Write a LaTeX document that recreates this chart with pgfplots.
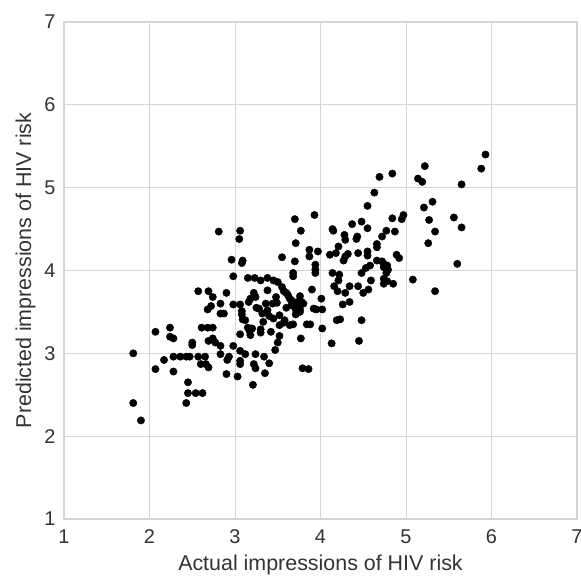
\documentclass[border=0pt]{standalone}
\usepackage{pgfplots}
\pgfplotsset{compat=1.18}
\usepackage{fontspec}
\setmainfont{Liberation Sans}
\definecolor{gridc}{HTML}{D5D5D5}
\definecolor{txtc}{HTML}{333333}
\begin{document}
\begin{tikzpicture}
\begin{axis}[
  scale only axis,
  width=513bp, height=497bp,
  xmin=1, xmax=7, ymin=1, ymax=7,
  xtick={1,2,3,4,5,6,7}, ytick={1,2,3,4,5,6,7},
  major tick length=0pt,
  grid=major,
  grid style={gridc, line width=0.9pt},
  axis line style={gridc, line width=1.1pt},
  tick label style={font=\fontsize{20}{24}\selectfont, text=txtc},
  /pgf/number format/assume math mode=true,
  xticklabel style={yshift=-7bp},
  yticklabel style={xshift=-5bp},
  label style={font=\fontsize{21.5}{25}\selectfont, text=txtc},
  xlabel={Actual impressions of HIV risk},
  ylabel={Predicted impressions of HIV risk},
  xlabel style={yshift=-5bp},
  ylabel style={yshift=2bp},
  clip=false,
]
\addplot[only marks, mark=*, mark size=3.7bp, mark options={fill=black, draw=black}] coordinates {
(1.81,3.00) (1.81,2.40) (1.90,2.19) (2.07,3.26) (2.07,2.81) (2.17,2.92)
(2.24,3.31) (2.24,3.20) (2.28,3.18) (2.28,2.96) (2.28,2.78)
(2.36,2.96) (2.43,2.96) (2.47,2.96) (2.45,2.65)
(2.45,2.52) (2.54,2.52) (2.62,2.52) (2.43,2.40)
(2.50,3.13) (2.50,3.10) (2.57,3.75) (2.57,2.96) (2.60,2.87)
(2.65,2.96) (2.66,2.87) (2.61,3.31) (2.68,3.31) (2.69,2.83)
(2.69,3.15) (2.68,3.53) (2.69,3.75) (2.74,3.68) (2.72,3.57)
(2.74,3.31) (2.74,3.18) (2.77,3.13) (2.81,4.47) (2.83,3.60)
(2.83,3.48) (2.87,3.48) (2.83,3.09) (2.83,2.99) (2.90,3.73)
(2.93,2.96) (2.91,2.92) (2.90,2.75) (2.96,4.13) (2.98,3.93)
(2.98,3.59) (2.98,3.09) (3.03,2.72) (3.06,4.48) (3.05,4.38)
(3.09,4.12) (3.08,4.09) (3.06,3.59) (3.08,3.51) (3.08,3.47)
(3.09,3.41) (3.06,3.23) (3.06,3.03) (3.06,2.91) (3.06,2.87)
(3.12,2.99) (3.15,3.91) (3.15,3.31) (3.18,3.22) (3.17,3.27)
(3.16,3.62) (3.18,3.66) (3.22,3.73) (3.24,3.68) (3.23,3.91)
(3.22,2.87) (3.24,2.82) (3.24,2.99) (3.21,2.62) (3.25,3.55)
(3.28,3.54) (3.30,3.88) (3.30,3.29) (3.30,3.25) (3.33,3.38)
(3.34,2.96) (3.35,2.76) (3.38,3.91) (3.38,3.76) (3.38,3.52)
(3.40,2.88) (3.42,3.26) (3.44,3.60) (3.45,3.42) (3.45,3.88)
(3.47,3.04) (3.49,3.61) (3.50,3.86) (3.50,3.13) (3.52,3.21)
(3.52,3.46) (3.52,3.34) (3.55,4.16) (3.57,3.75) (3.60,3.73)
(3.57,3.37) (3.60,3.55) (3.64,3.66) (3.66,3.64) (3.64,3.34)
(3.68,3.35) (3.68,3.97) (3.68,3.93) (3.70,4.62) (3.71,4.33)
(3.70,4.11) (3.71,3.53) (3.71,3.47) (3.73,3.62) (3.73,3.57)
(3.76,3.69) (3.77,4.48) (3.77,3.18) (3.78,3.62) (3.80,3.60)
(3.76,3.53) (3.76,3.50) (3.79,2.82) (3.86,2.81) (3.84,3.35)
(3.88,3.35) (3.87,4.25) (3.87,4.17) (3.90,3.77) (3.93,4.67)
(3.94,4.07) (3.94,4.01) (3.94,3.97) (3.92,3.54) (3.95,3.53)
(3.97,4.23) (4.01,3.66) (4.02,3.53) (4.02,3.30) (4.11,4.19)
(4.13,3.12) (4.14,4.50) (4.15,4.48) (4.14,3.97) (4.16,3.81)
(4.18,4.21) (4.20,3.75) (4.19,3.40) (4.21,4.29) (4.21,3.88)
(4.22,3.95) (4.23,3.41) (4.26,3.59) (4.27,4.12) (4.29,4.17)
(4.28,4.43) (4.29,4.37) (4.29,3.73) (4.32,4.20) (4.34,3.81)
(4.34,3.62) (4.37,4.56) (4.42,4.38) (4.43,4.41) (4.44,4.21)
(4.44,3.81) (4.45,3.15) (4.48,4.59) (4.48,3.97) (4.48,3.40)
(4.50,3.73) (4.53,4.03) (4.55,4.78) (4.55,4.51) (4.55,4.23)
(4.55,4.18) (4.56,3.77) (4.58,4.06) (4.59,3.88) (4.63,4.94)
(4.66,4.32) (4.66,4.28) (4.66,4.12) (4.69,5.13) (4.72,4.41)
(4.72,4.11) (4.74,4.08) (4.74,4.04) (4.77,3.97) (4.74,3.90)
(4.74,3.84) (4.77,4.48) (4.78,4.06) (4.79,4.01) (4.78,3.87)
(4.84,5.17) (4.84,4.63) (4.85,3.84) (4.87,4.47) (4.89,4.19)
(4.92,4.15) (4.95,4.62) (4.97,4.67) (5.08,3.89) (5.14,5.11)
(5.19,5.07) (5.22,5.26) (5.21,4.76) (5.31,4.83) (5.27,4.61)
(5.26,4.33) (5.34,4.47) (5.34,3.75) (5.56,4.64) (5.60,4.08)
(5.65,5.04) (5.65,4.52) (5.88,5.23) (5.93,5.40)
(3.36,3.60) (3.48,3.68) (3.55,3.80) (3.62,3.70) (3.40,3.45)
(3.58,3.40) (3.66,3.58) (3.12,3.40) (3.20,3.30) (3.32,3.48)
};
\coordinate (bl) at (rel axis cs:0,0);
\coordinate (tr) at (rel axis cs:1,1);
\end{axis}
\pgfresetboundingbox
\useasboundingbox ([xshift=-64bp,yshift=-59bp]bl) rectangle ([xshift=4bp,yshift=22bp]tr);
\end{tikzpicture}
\end{document}
